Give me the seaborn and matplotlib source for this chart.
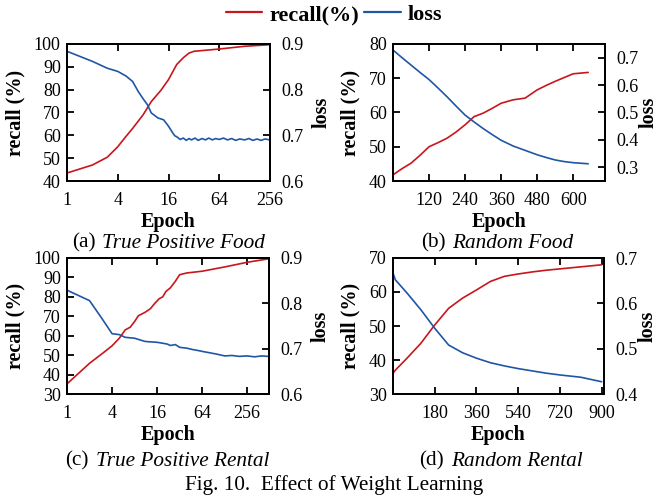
import matplotlib
matplotlib.use("Agg")
import matplotlib.pyplot as plt
import seaborn as sns
from matplotlib.lines import Line2D

# ---------------- data ----------------
# (a) True Positive Food
a_epoch_recall = [1, 2, 3, 4, 5, 6, 8, 10, 13, 16, 20, 24, 28, 32, 64, 128, 256]
a_recall = [43.5, 47.0, 50.4, 55.0, 59.5, 63.0, 69.0, 74.8, 79.7, 84.4, 91.0, 94.0, 96.0, 96.8, 97.8, 99.0, 99.7]
a_epoch_loss = [1, 2, 3, 4, 5, 6, 7, 8, 9, 10, 12, 14, 16, 18, 19, 20, 22, 24, 26, 28, 30, 33, 36, 40, 44,
                48, 53, 58, 64, 72, 80, 90, 100, 112, 128, 144, 160, 180, 200, 224, 256]
a_loss = [0.884, 0.862, 0.847, 0.840, 0.830, 0.818, 0.796, 0.780, 0.767, 0.749, 0.738, 0.734, 0.720, 0.705,
          0.699, 0.697, 0.691, 0.694, 0.689, 0.693, 0.690, 0.694, 0.689, 0.693, 0.690, 0.694, 0.690, 0.693,
          0.691, 0.694, 0.690, 0.693, 0.689, 0.692, 0.690, 0.693, 0.689, 0.692, 0.689, 0.692, 0.690]

# (b) Random Food
b_epoch = [0, 30, 60, 90, 120, 150, 180, 210, 240, 270, 300, 330, 360, 400, 440, 480, 510, 540, 570, 600, 625, 650]
b_recall = [41.8, 43.6, 45.2, 47.5, 50.0, 51.2, 52.5, 54.3, 56.4, 58.8, 59.8, 61.2, 62.7, 63.7, 64.2, 66.6,
            67.9, 69.1, 70.2, 71.3, 71.5, 71.7]
b_loss = [0.728, 0.700, 0.673, 0.646, 0.620, 0.589, 0.557, 0.523, 0.490, 0.465, 0.441, 0.419, 0.398, 0.377,
          0.361, 0.345, 0.335, 0.326, 0.320, 0.316, 0.314, 0.312]

# (c) True Positive Rental
c_epoch = [1, 2, 3, 4, 5, 6, 7, 8, 9, 11, 13, 15, 17, 19, 21, 24, 28, 32, 40, 64, 128, 256, 480]
c_recall = [35.2, 45.8, 51.0, 54.8, 58.7, 63.0, 64.4, 67.3, 70.3, 72.0, 73.9, 76.8, 79.0, 80.0, 82.8, 84.6,
            88.0, 91.4, 92.3, 93.2, 95.4, 97.8, 99.5]
c_epoch_loss = [1, 2, 3, 4, 5, 6, 8, 11, 13, 16, 19, 22, 24, 28, 32, 40, 48, 56, 64, 80, 100, 128, 160,
                200, 256, 320, 400, 480]
c_loss = [0.829, 0.806, 0.764, 0.733, 0.731, 0.725, 0.723, 0.716, 0.715, 0.714, 0.712, 0.710, 0.707,
          0.709, 0.703, 0.701, 0.698, 0.696, 0.694, 0.691, 0.688, 0.684, 0.685, 0.683, 0.684, 0.682,
          0.684, 0.683]

# (d) Random Rental
d_epoch = [0, 10, 60, 120, 180, 240, 300, 360, 420, 480, 540, 600, 660, 720, 810, 900]
d_recall = [36.1, 37.0, 40.5, 44.9, 50.3, 55.2, 58.2, 60.6, 63.1, 64.6, 65.3, 65.9, 66.4, 66.8, 67.4, 68.0]
d_loss = [0.667, 0.652, 0.623, 0.586, 0.545, 0.508, 0.491, 0.479, 0.469, 0.462, 0.456, 0.451, 0.446,
          0.442, 0.437, 0.427]

RED = "#c8161d"
BLUE = "#1f56a5"

sns.set_theme(style="ticks")
plt.rcParams["font.family"] = ["Liberation Serif", "DejaVu Serif"]
plt.rcParams["axes.linewidth"] = 1.3
plt.rcParams["xtick.major.width"] = 1.3
plt.rcParams["ytick.major.width"] = 1.3
for k in ["text.color", "axes.labelcolor", "xtick.color", "ytick.color", "axes.edgecolor"]:
    plt.rcParams[k] = "black"

fig = plt.figure(figsize=(6.59, 4.98), dpi=100)
W, H = 659, 498


def box(l, r, t, b):
    return [l / W, (H - b) / H, (r - l) / W, (b - t) / H]


TFS = 13.0
LFS = 14.5


def panel(rect, xr, yr, xl, yl, ylim, y2lim, xlim, xticks, xtlabels, yticks, y2ticks, logx, rpad):
    ax = fig.add_axes(rect)
    sns.lineplot(x=xr, y=yr, ax=ax, color=RED, linewidth=1.2, estimator=None, sort=False)
    ax2 = ax.twinx()
    sns.lineplot(x=xl, y=yl, ax=ax2, color=BLUE, linewidth=1.2, estimator=None, sort=False)
    if logx:
        ax.set_xscale("log", base=2)
    ax.set_xlim(*xlim)
    ax.set_ylim(*ylim)
    ax2.set_ylim(*y2lim)
    ax.set_xticks(xticks)
    ax.set_xticklabels(xtlabels)
    ax.minorticks_off()
    ax2.minorticks_off()
    ax.set_yticks(yticks)
    ax.set_yticklabels([str(v) for v in yticks])
    ax2.set_yticks(y2ticks)
    ax2.set_yticklabels([f"{v:.1f}" for v in y2ticks])
    ax.tick_params(axis="both", direction="in", length=5, labelsize=TFS, top=True, right=False, pad=4.5)
    ax.tick_params(axis="x", pad=8)
    ax2.tick_params(axis="y", direction="in", length=5, labelsize=TFS, pad=8)
    ax.set_xlabel("Epoch", fontsize=LFS, fontweight="bold", labelpad=2)
    ax.set_ylabel("recall (%)", fontsize=LFS, fontweight="bold", labelpad=6)
    ax2.set_ylabel("loss", fontsize=LFS, fontweight="bold", labelpad=rpad)
    return ax, ax2


panel(box(67, 270, 44, 181), a_epoch_recall, a_recall, a_epoch_loss, a_loss,
      (40, 100), (0.6, 0.9), (1, 256), [1, 4, 16, 64, 256], ["1", "4", "16", "64", "256"],
      [40, 50, 60, 70, 80, 90, 100], [0.6, 0.7, 0.8, 0.9], True, 6)
panel(box(393, 605, 44, 181), b_epoch, b_recall, b_epoch, b_loss,
      (40, 80), (0.249, 0.75), (0, 706), [120, 240, 360, 480, 600], ["120", "240", "360", "480", "600"],
      [40, 50, 60, 70, 80], [0.3, 0.4, 0.5, 0.6, 0.7], False, 0)
panel(box(67, 269, 258, 394), c_epoch, c_recall, c_epoch_loss, c_loss,
      (30, 100), (0.6, 0.9), (1, 500), [1, 4, 16, 64, 256], ["1", "4", "16", "64", "256"],
      [30, 40, 50, 60, 70, 80, 90, 100], [0.6, 0.7, 0.8, 0.9], True, 6)
panel(box(393, 604, 258, 394), d_epoch, d_recall, d_epoch, d_loss,
      (30, 70), (0.4, 0.7), (0, 910), [180, 360, 540, 720, 900], ["180", "360", "540", "720", "900"],
      [30, 40, 50, 60, 70], [0.4, 0.5, 0.6, 0.7], False, 0)

# legend
handles = [Line2D([], [], color=RED, linewidth=1.6), Line2D([], [], color=BLUE, linewidth=1.6)]
fig.legend(handles, ["recall(%)", "loss"], loc="center", bbox_to_anchor=(334 / W, 1 - 15 / H), ncol=2,
           frameon=False, prop={"weight": "bold", "size": 16}, handlelength=1.65, handletextpad=0.3,
           columnspacing=0.25, borderaxespad=0, borderpad=0)

CFS = 15.3


def caption(xr, xi, y, lab, it):
    fig.text(xr / W, 1 - y / H, lab, ha="right", va="center", fontsize=CFS)
    fig.text(xi / W, 1 - y / H, it, ha="left", va="center", fontsize=CFS, style="italic")


caption(96, 102, 243, "(a)", "True Positive Food")
caption(446, 452, 243, "(b)", "Random Food")
caption(89, 96, 461, "(c)", "True Positive Rental")
caption(444, 451, 461, "(d)", "Random Rental")
fig.text(334 / W, 1 - 485 / H, "Fig. 10.  Effect of Weight Learning", ha="center", va="center", fontsize=CFS)

fig.savefig("out.png", dpi=100)
